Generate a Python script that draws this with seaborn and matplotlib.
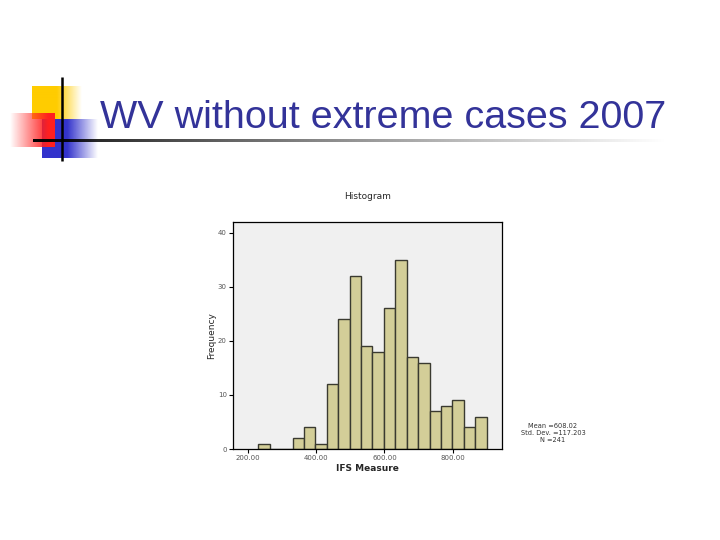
import numpy as np
import pandas as pd
import matplotlib
matplotlib.use("Agg")
import matplotlib.pyplot as plt
import seaborn as sns

# ---- data ----
bin_start = 231.0
bin_width = 33.4
counts = [1, 0, 0, 2, 4, 1, 12, 24, 32, 19, 18, 26, 35, 17, 16, 7, 8, 9, 4, 6]
x_ticks = [200, 400, 600, 800]
x_tick_labels = ["200.00", "400.00", "600.00", "800.00"]
y_ticks = [0, 10, 20, 30, 40]
slide_title = "WV without extreme cases 2007"
chart_title = "Histogram"
x_label = "IFS Measure"
y_label = "Frequency"
stats_lines = ["Mean =608.02", "Std. Dev. =117.203", "N =241"]

edges = bin_start + bin_width * np.arange(len(counts) + 1)
centers = (edges[:-1] + edges[1:]) / 2
df = pd.DataFrame({"value": centers, "count": counts})

sns.set_theme(style="white")
plt.rcParams['font.family'] = ['DejaVu Sans']

fig = plt.figure(figsize=(7.2, 5.4), dpi=100, facecolor="white")

# ---- slide decoration (pixel coords) ----
deco = fig.add_axes([0, 0, 1, 1])
deco.axis("off")

def grad_rect(ax, x0, x1, y0, y1, color, solid_frac, direction="right", z=1):
    n = 200
    t = np.linspace(0, 1, n)
    if direction == "right":
        a = np.where(t < solid_frac, 1.0, 1.0 - (t - solid_frac) / (1 - solid_frac))
    else:
        a = np.where(t > 1 - solid_frac, 1.0, t / (1 - solid_frac))
    img = np.zeros((1, n, 4))
    img[..., :3] = matplotlib.colors.to_rgb(color)
    img[..., 3] = np.clip(a, 0, 1)
    ax.imshow(img, extent=[x0, x1, y1, y0], aspect="auto", zorder=z, interpolation="bilinear")

grad_rect(deco, 32, 82, 86, 119, "#ffcc00", 0.5, "right", z=1)
grad_rect(deco, 42, 98, 119, 158, "#3333cc", 0.45, "right", z=2)
grad_rect(deco, 10, 55, 113, 147, "#ff2020", 0.15, "left", z=3)

n = 400
img = np.zeros((1, n, 4))
t = np.linspace(0, 1, n)
img[..., 3] = np.clip(1.0 - t ** 0.8, 0, 1)
deco.imshow(img, extent=[33, 668, 142, 139.5], aspect="auto", zorder=4, interpolation="bilinear")
deco.plot([62, 62], [77, 161], color="black", lw=1.8, zorder=5, solid_capstyle="butt")
deco.set_xlim(0, 720)
deco.set_ylim(540, 0)

title_txt = deco.text(100, 128, slide_title, fontsize=30, color="#333399", ha="left",
                      va="baseline", zorder=6, family=["Liberation Sans", "DejaVu Sans"])
# fit title width to the reference span (100 -> 665 px)
fig.canvas.draw()
w = title_txt.get_window_extent(renderer=fig.canvas.get_renderer()).width
title_txt.set_fontsize(30 * 565.0 / w)

# ---- histogram ----
ax = fig.add_axes([233 / 720, 1 - 449 / 540, (502 - 233) / 720, (449 - 222) / 540])
sns.histplot(data=df, x="value", weights="count", binwidth=bin_width,
             binrange=(float(edges[0]), float(edges[-1])), ax=ax, color="#d3ce98",
             edgecolor="#3a3a30", linewidth=1.0, alpha=1.0)
ax.set_facecolor("#f0f0f0")
ax.set_xlim(157, 944)
ax.set_ylim(0, 42)
ax.set_xticks(x_ticks)
ax.set_xticklabels(x_tick_labels)
ax.set_yticks(y_ticks)
ax.tick_params(axis="both", which="major", direction="out", length=3, width=0.8,
               labelsize=5, colors="black", labelcolor="#555555", pad=1.5,
               bottom=True, left=True)
for s in ax.spines.values():
    s.set_color("black")
    s.set_linewidth(0.9)
ax.set_xlabel(x_label, fontsize=6.5, fontweight="bold", labelpad=2)
ax.set_ylabel(y_label, fontsize=6.5, labelpad=1)
ax.set_title(chart_title, fontsize=6.5, pad=16.5)

fig.text(553 / 720, 1 - 433 / 540, "\n".join(stats_lines), fontsize=4.8,
         ha="center", va="center", linespacing=1.15, color="#333333")

fig.savefig("out.png", dpi=100, facecolor="white")
